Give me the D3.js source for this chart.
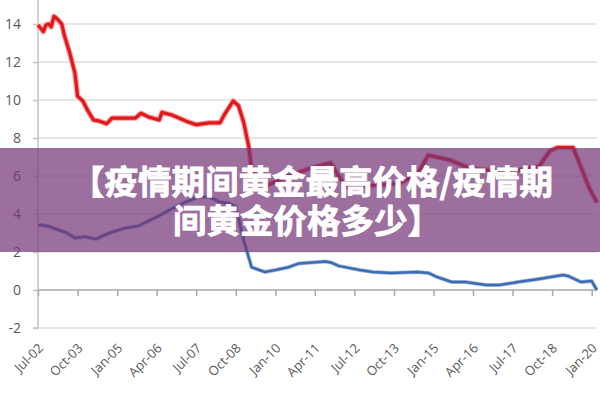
<!DOCTYPE html>
<html>
<head>
<meta charset="utf-8">
<script src="https://cdn.jsdelivr.net/npm/d3@7"></script>
<style>
  html, body { margin: 0; padding: 0; background: #fff; }
  svg { display: block; }
</style>
</head>
<body>
<svg id="chart" width="600" height="400"></svg>
<script>
const redDates = ['2002-07', '2002-09', '2002-10', '2002-11', '2002-12', '2003-01', '2003-02', '2003-04', '2003-05',
  '2003-07', '2003-09', '2003-10', '2003-12', '2004-02', '2004-04', '2004-06', '2004-09', '2004-11', '2005-04',
  '2005-08', '2005-10', '2006-01', '2006-05', '2006-06', '2006-10', '2007-03', '2007-07', '2007-12', '2008-04',
  '2008-06', '2008-09', '2008-11', '2009-01', '2009-03', '2009-04', '2009-08', '2010-01', '2010-06', '2011-02',
  '2011-10', '2012-01', '2012-04', '2013-01', '2013-12', '2014-07', '2014-11', '2015-07', '2016-03', '2016-10',
  '2017-09', '2018-05', '2018-09', '2018-12', '2019-06', '2019-10', '2019-12', '2020-03'];
const redValues = [13.95, 13.6, 13.95, 14.0, 13.85, 14.4, 14.3, 14.0, 13.4,
  12.5, 11.4, 10.2, 9.95, 9.4, 8.95, 8.9, 8.75, 9.05, 9.05,
  9.05, 9.3, 9.1, 8.95, 9.35, 9.2, 8.9, 8.7, 8.8, 8.8,
  9.3, 9.95, 9.7, 8.8, 7.5, 6.3, 5.4, 5.7, 6.0, 6.4,
  6.7, 6.0, 5.4, 5.5, 5.6, 6.1, 7.1, 6.85, 6.4, 6.3,
  6.3, 6.5, 7.3, 7.5, 7.5, 6.1, 5.4, 4.6];

const blueDates = ['2002-07', '2002-08', '2002-11', '2003-06', '2003-09', '2004-01', '2004-05', '2004-10', '2005-04',
  '2005-09', '2006-04', '2006-10', '2007-03', '2007-08', '2007-12', '2008-04', '2008-07', '2008-10', '2008-12',
  '2009-01', '2009-04', '2009-09', '2010-01', '2010-06', '2010-10', '2011-08', '2011-10', '2012-01', '2012-09',
  '2013-02', '2013-09', '2014-07', '2014-11', '2015-02', '2015-08', '2016-01', '2016-09', '2017-02', '2017-09',
  '2018-05', '2019-02', '2019-04', '2019-09', '2020-01', '2020-03'];
const blueValues = [3.4, 3.42, 3.35, 3.0, 2.74, 2.8, 2.68, 3.0, 3.26,
  3.37, 3.84, 4.3, 4.63, 4.9, 4.9, 4.63, 4.58, 4.4, 3.2,
  2.6, 1.2, 0.95, 1.05, 1.2, 1.4, 1.5, 1.45, 1.27, 1.05,
  0.95, 0.9, 0.95, 0.9, 0.7, 0.42, 0.42, 0.26, 0.26, 0.42,
  0.58, 0.79, 0.74, 0.42, 0.47, 0.0];

const xTickLabels = ['Jul-02', 'Oct-03', 'Jan-05', 'Apr-06', 'Jul-07', 'Oct-08', 'Jan-10', 'Apr-11',
  'Jul-12', 'Oct-13', 'Jan-15', 'Apr-16', 'Jul-17', 'Oct-18', 'Jan-20'];
const yTicks = [-2, 0, 2, 4, 6, 8, 10, 12, 14];

const titleLines = ['【疫情期间黄金最高价格/疫情期', '间黄金价格多少】'];

const parseMonth = d3.timeParse('%Y-%m');
const parseLabel = d3.timeParse('%b-%y');

const svg = d3.select('#chart');
const left = 38, right = 597;

const x = d3.scaleTime()
  .domain([parseMonth('2002-07'), parseMonth('2020-01')])
  .range([left, 591.7]);
const y = d3.scaleLinear().domain([-2, 16]).range([328, -14]);

// grid
svg.append('g').selectAll('line')
  .data(yTicks.filter(v => v !== 0))
  .join('line')
  .attr('x1', left).attr('x2', right)
  .attr('y1', d => y(d)).attr('y2', d => y(d))
  .attr('stroke', '#e1e1da').attr('stroke-width', 1.5);

// y axis
const yAxis = d3.axisLeft(y).tickValues(yTicks).tickSize(5).tickPadding(12)
  .tickFormat(d => String(d));
svg.append('g')
  .attr('transform', `translate(${left},0)`)
  .call(yAxis)
  .call(g => g.select('.domain').attr('d', `M-5,${y(-2)}H0V0`)
    .attr('stroke', '#c4c4c4').attr('stroke-width', 1.5))
  .call(g => g.selectAll('.tick line').attr('stroke', '#c4c4c4').attr('stroke-width', 1.5))
  .call(g => g.selectAll('.tick text')
    .attr('fill', '#595959').attr('font-size', 14).attr('font-family', 'Open Sans, sans-serif'));

// zero line with ticks
const tickDates = xTickLabels.map(parseLabel);
const xAxis = d3.axisBottom(x).tickValues(tickDates).tickSize(6).tickFormat('');
svg.append('g')
  .attr('transform', `translate(0,${y(0)})`)
  .call(xAxis)
  .call(g => g.select('.domain').attr('d', `M${left},0H${right}`).attr('stroke', '#a9a9a9').attr('stroke-width', 1.5))
  .call(g => g.selectAll('.tick line').attr('stroke', '#a9a9a9').attr('stroke-width', 1.5));

// x labels at bottom
svg.append('g').selectAll('text')
  .data(xTickLabels)
  .join('text')
  .attr('transform', (d, i) => `translate(${x(tickDates[i]) + 6},${y(-2) + 21}) rotate(-45)`)
  .attr('text-anchor', 'end')
  .attr('fill', '#595959')
  .attr('font-size', 13)
  .attr('font-family', 'Open Sans, sans-serif')
  .text(d => d);

const line = d3.line()
  .x(d => x(d[0]))
  .y(d => y(d[1]));

const redData = redDates.map((d, i) => [parseMonth(d), redValues[i]]);
const blueData = blueDates.map((d, i) => [parseMonth(d), blueValues[i]]);

svg.append('path').datum(redData)
  .attr('d', line).attr('fill', 'none')
  .attr('stroke', '#f4a3a3').attr('stroke-width', 5.5).attr('stroke-linejoin', 'round');
svg.append('path').datum(redData)
  .attr('d', line).attr('fill', 'none')
  .attr('stroke', '#e3161b').attr('stroke-width', 3.2).attr('stroke-linejoin', 'round');

svg.append('path').datum(blueData)
  .attr('d', line).attr('fill', 'none')
  .attr('stroke', '#a8bedc').attr('stroke-width', 4).attr('stroke-linejoin', 'round');
svg.append('path').datum(blueData)
  .attr('d', line).attr('fill', 'none')
  .attr('stroke', '#3d6db2').attr('stroke-width', 2.5).attr('stroke-linejoin', 'round');

// overlay banner
svg.append('rect')
  .attr('x', 0).attr('y', 148).attr('width', 600).attr('height', 104)
  .attr('fill', 'rgba(118,55,122,0.72)');

svg.append('g').selectAll('text')
  .data(titleLines)
  .join('text')
  .attr('x', (d, i) => i === 0 ? 312 : 307)
  .attr('y', (d, i) => 194 + i * 39)
  .attr('text-anchor', 'middle')
  .attr('fill', '#fff')
  .attr('stroke', '#fff')
  .attr('stroke-width', 0.8)
  .attr('font-size', 33.5)
  .attr('font-weight', 700)
  .attr('font-family', '"Noto Sans CJK SC", sans-serif')
  .text(d => d);
</script>
</body>
</html>
